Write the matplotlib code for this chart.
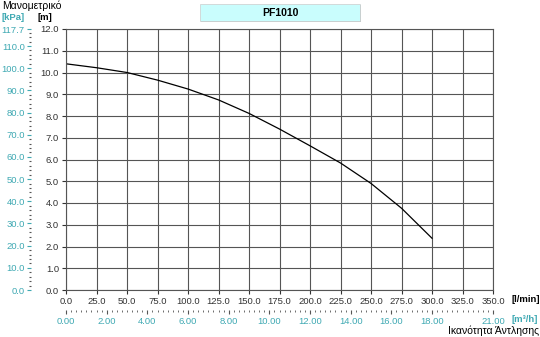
import matplotlib.pyplot as plt
from matplotlib.ticker import FormatStrFormatter, MultipleLocator, FixedLocator

plt.rcParams['font.family'] = ['Liberation Sans', 'DejaVu Sans']

# pump curve: flow [l/min] vs head [m]
flow = [0, 25, 50, 75, 100, 125, 150, 175, 200, 225, 250, 275, 300]
head = [10.4, 10.22, 10.0, 9.65, 9.24, 8.74, 8.12, 7.4, 6.63, 5.84, 4.9, 3.76, 2.38]

x_ticks = [0, 25, 50, 75, 100, 125, 150, 175, 200, 225, 250, 275, 300, 325, 350]
y_ticks = [0, 1, 2, 3, 4, 5, 6, 7, 8, 9, 10, 11, 12]
kpa_ticks = [0, 10, 20, 30, 40, 50, 60, 70, 80, 90, 100, 110, 117.68]
m3h_ticks = [0, 2, 4, 6, 8, 10, 12, 14, 16, 18, 21]

teal = '#3fa9b3'
fs = 6.8
W, H = 540, 337

fig = plt.figure(figsize=(W / 100, H / 100), dpi=100)
ax = fig.add_axes([66 / W, (H - 290) / H, (493 - 66) / W, (290 - 29) / H])

ax.plot(flow, head, color='black', linewidth=0.9)
ax.set_xlim(0, 350)
ax.set_ylim(0, 12)
ax.set_xticks(x_ticks)
ax.set_yticks(y_ticks)
ax.xaxis.set_major_formatter(FormatStrFormatter('%.1f'))
ax.yaxis.set_major_formatter(FormatStrFormatter('%.1f'))
ax.grid(True, color='#555555', linewidth=0.8)
ax.tick_params(labelsize=fs, length=3, width=0.8, pad=2, colors='#333333')
for s in ax.spines.values():
    s.set_color('#555555')
    s.set_linewidth(0.8)

# kPa scale on the left (12 m = 117.68 kPa)
kpa = ax.secondary_yaxis(-35 / 427, functions=(lambda m: m * 9.8067, lambda p: p / 9.8067))
kpa.yaxis.set_major_locator(FixedLocator(kpa_ticks))
kpa.yaxis.set_minor_locator(MultipleLocator(2))
kpa.yaxis.set_major_formatter(FormatStrFormatter('%.1f'))
kpa.tick_params(which='major', labelsize=fs, length=3, width=0.8, pad=1.5, colors=teal, labelcolor=teal)
kpa.tick_params(which='minor', length=1.5, width=0.8, colors='#555555')
kpa.spines['left'].set_visible(False)

# m3/h scale at the bottom
m3h = ax.secondary_xaxis(-20 / 261, functions=(lambda q: q * 0.06, lambda q: q / 0.06))
m3h.xaxis.set_major_locator(FixedLocator(m3h_ticks))
m3h.xaxis.set_minor_locator(MultipleLocator(0.25))
m3h.xaxis.set_major_formatter(FormatStrFormatter('%.2f'))
m3h.tick_params(which='major', labelsize=fs, length=3, width=0.8, pad=2, colors='#555555', labelcolor=teal)
m3h.tick_params(which='minor', length=1.5, width=0.6, colors='#555555')
m3h.spines['bottom'].set_visible(False)

# labels
fig.text(2 / W, 1 - 6 / H, 'Μανομετρικό', fontsize=7.5, va='center', ha='left')
fig.text(2 / W, 1 - 17 / H, '[kPa]', fontsize=fs, va='center', ha='left', color=teal, fontweight='bold')
fig.text(37 / W, 1 - 17 / H, '[m]', fontsize=fs, va='center', ha='left', fontweight='bold')
fig.text(511 / W, 1 - 299 / H, '[l/min]', fontsize=fs, va='center', ha='left', fontweight='bold')
fig.text(511 / W, 1 - 320 / H, '[m³/h]', fontsize=fs, va='center', ha='left', color=teal, fontweight='bold')
fig.text(539 / W, 1 - 331 / H, 'Ικανότητα Άντλησης', fontsize=7.5, va='center', ha='right')

# title box
fig.patches.append(plt.Rectangle((201 / W, 1 - 22 / H), 160 / W, 17 / H, transform=fig.transFigure,
                                 facecolor='#bbbbbb', edgecolor='none', zorder=-2))
fig.patches.append(plt.Rectangle((200 / W, 1 - 21 / H), 160 / W, 17 / H, transform=fig.transFigure,
                                 facecolor='#c9fdfd', edgecolor='#cccccc', linewidth=0.5, zorder=-1))
fig.text(280 / W, 1 - 12.5 / H, 'PF1010', fontsize=7.5, va='center', ha='center', fontweight='bold')

fig.savefig('out.png', dpi=100)
